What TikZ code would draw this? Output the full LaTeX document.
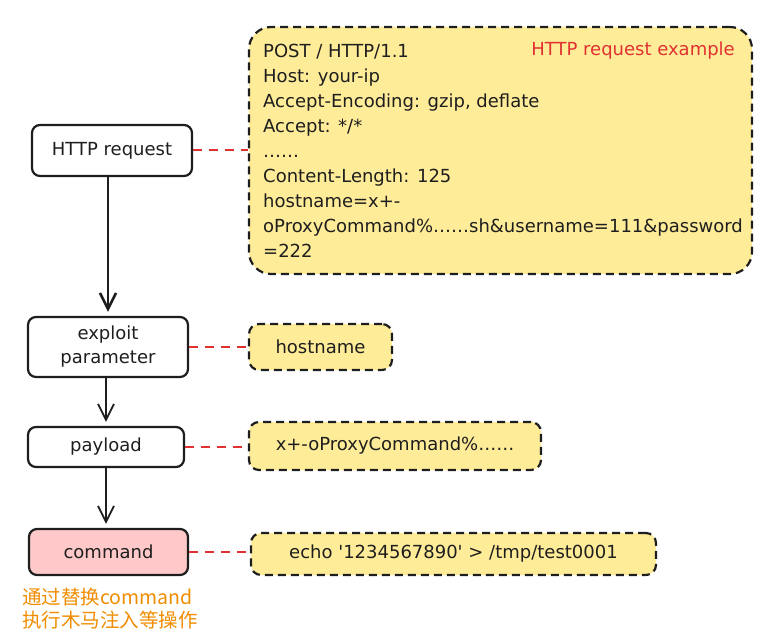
\documentclass[tikz,border=0pt]{standalone}
\usepackage{fontspec}
\setmainfont{DejaVu Sans}
\newfontfamily\cjk{Noto Sans CJK SC}
\usetikzlibrary{arrows.meta}
\definecolor{ink}{HTML}{1E1E1E}
\definecolor{yel}{HTML}{FFEC99}
\definecolor{redl}{HTML}{E03131}
\definecolor{pinkf}{HTML}{FFC9C9}
\definecolor{orng}{HTML}{F08C00}
\begin{document}
\begin{tikzpicture}[x=1pt,y=-1pt,
  txt/.style={font=\fontsize{18}{24}\selectfont, text=ink},
  flow/.style={draw=ink, line width=2.2pt, rounded corners=8pt, fill=white, inner sep=0pt, align=center, txt},
  note/.style={draw=ink, dash pattern=on 8pt off 5pt, line width=2.2pt, fill=yel, rounded corners=10pt, inner sep=0pt, txt},
  link/.style={draw=redl, line width=2pt, dash pattern=on 9pt off 7pt},
  arr/.style={draw=ink, line width=1.8pt, -{Straight Barb[length=16pt, width=16pt]}, shorten >=4pt},
  reqline/.style={anchor=base west, inner sep=0pt, txt}
]
\useasboundingbox (0,0) rectangle (774,639);

% flow nodes
\node[flow, minimum width=160pt, minimum height=51pt] (http) at (112,150.5) {HTTP request};
\node[flow, minimum width=160pt, minimum height=60pt] (exp) at (108,347) {exploit\\parameter};
\node[flow, minimum width=156pt, minimum height=40pt] (pay) at (106,447) {payload};
\node[flow, fill=pinkf, minimum width=159pt, minimum height=46pt] (cmd) at (108.5,552) {command};

% notes
\node[note, rounded corners=22pt, minimum width=503pt, minimum height=247pt] (req) at (500.5,150.5) {};
\node[note, minimum width=143pt, minimum height=46pt] (hn) at (320.5,347) {hostname};
\node[note, minimum width=292pt, minimum height=48pt] (pl) at (395,446) {x+-oProxyCommand\%……};
\node[note, minimum width=405pt, minimum height=42pt] (ec) at (453.5,554) {echo \textquotesingle 1234567890\textquotesingle{} > /tmp/test0001};

% request text
\foreach \t [count=\i] in {{POST / HTTP/1.1},{Host: your-ip},{Accept-Encoding: gzip, deflate},{Accept: */*},{……},{Content-Length: 125},{hostname=x+-},{oProxyCommand\%……sh\&username=111\&password},{=222}}
  \node[reqline] (line\i) at (263,{58+25*(\i-1)}) {\t};
\node[anchor=base east, inner sep=0pt, txt, text=redl] (ex) at (735,56) {HTTP request example};

% arrows
\draw[arr, line width=2.6pt] (exp.north |- http.south) -- (exp.north);
\draw[arr] (pay.north |- exp.south) -- (pay.north);
\draw[arr] (pay.south) -- (pay.south |- cmd.north);

% links
\draw[link] (http.east) -- (req.west);
\draw[link] (exp.east) -- (exp.east -| hn.west);
\draw[link] (pay.east) -- (pay.east -| pl.west);
\draw[link] (cmd.east) -- (cmd.east -| ec.west);

% note
\node[anchor=north west, align=left, inner sep=0pt, text=orng, font=\cjk\fontsize{19.5}{23}\selectfont] (cn) at (22,588) {通过替换command\\执行木马注入等操作};
\end{tikzpicture}
\end{document}
